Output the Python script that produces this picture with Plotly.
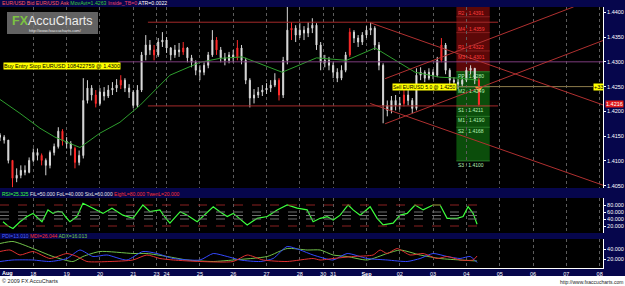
import plotly.graph_objects as go

W, H = 625, 286
FONT = "Liberation Sans"

# ---------------- data ----------------
date_ticks = [0, 1, 2, 3, 4, 4.7, 5, 6, 7, 8, 9, 9.7, 10, 11, 12, 13, 14, 15, 16, 17, 18]
date_labels = ["", "18", "19", "20", "21", "23", "24", "25", "26", "27", "28", "30", "31",
               "<b>Sep</b>", "02", "03", "04", "05", "06", "07", "08"]

bars_per_day = 8
first_open = 1.4152
close = [1.4148, 1.4142, 1.4101, 1.4065, 1.4071, 1.4081, 1.4077, 1.4101, 1.4117, 1.4111,
         1.4101, 1.4091, 1.4117, 1.4129, 1.4160, 1.4140, 1.4135, 1.4125, 1.4097, 1.4111,
         1.4222, 1.4247, 1.4233, 1.4216, 1.4239, 1.4231, 1.4243, 1.4247, 1.4253, 1.4263,
         1.4247, 1.4239, 1.4212, 1.4243, 1.4314, 1.4334, 1.4324, 1.4314, 1.4340, 1.4344,
         1.4328, 1.4314, 1.4324, 1.4320, 1.4328, 1.4308, 1.4299, 1.4283, 1.4279, 1.4293,
         1.4314, 1.4344, 1.4324, 1.4308, 1.4303, 1.4314, 1.4308, 1.4328, 1.4303, 1.4263,
         1.4227, 1.4233, 1.4239, 1.4243, 1.4247, 1.4253, 1.4263, 1.4233, 1.4303, 1.4364,
         1.4368, 1.4354, 1.4364, 1.4358, 1.4368, 1.4374, 1.4334, 1.4299, 1.4303, 1.4293,
         1.4279, 1.4267, 1.4283, 1.4314, 1.4360, 1.4348, 1.4340, 1.4354, 1.4364, 1.4368,
         1.4334, 1.4293, 1.4212, 1.4202, 1.4222, 1.4212, 1.4216, 1.4233, 1.4222, 1.4206,
         1.4273, 1.4279, 1.4267, 1.4279, 1.4273, 1.4303, 1.4334, 1.4283, 1.4263, 1.4259,
         1.4255, 1.4263, 1.4283, 1.4287, 1.4263, 1.4214]
high = [1.4156, 1.4152, 1.4142, 1.4101, 1.4085, 1.4091, 1.4091, 1.4107, 1.4125, 1.4125,
        1.4115, 1.4105, 1.4121, 1.4135, 1.4168, 1.4164, 1.4148, 1.4140, 1.4129, 1.4121,
        1.4267, 1.4263, 1.4253, 1.4243, 1.4247, 1.4249, 1.4253, 1.4259, 1.4265, 1.4273,
        1.4267, 1.4255, 1.4243, 1.4253, 1.4320, 1.4354, 1.4344, 1.4334, 1.4348, 1.4360,
        1.4350, 1.4330, 1.4334, 1.4338, 1.4340, 1.4330, 1.4314, 1.4303, 1.4293, 1.4299,
        1.4320, 1.4364, 1.4350, 1.4330, 1.4318, 1.4320, 1.4324, 1.4344, 1.4334, 1.4308,
        1.4267, 1.4245, 1.4249, 1.4253, 1.4257, 1.4263, 1.4277, 1.4267, 1.4310, 1.4411,
        1.4380, 1.4374, 1.4378, 1.4372, 1.4380, 1.4388, 1.4378, 1.4340, 1.4314, 1.4310,
        1.4299, 1.4287, 1.4293, 1.4320, 1.4368, 1.4364, 1.4354, 1.4360, 1.4372, 1.4380,
        1.4372, 1.4340, 1.4297, 1.4222, 1.4231, 1.4233, 1.4229, 1.4243, 1.4243, 1.4227,
        1.4287, 1.4289, 1.4283, 1.4287, 1.4285, 1.4310, 1.4348, 1.4338, 1.4287, 1.4269,
        1.4265, 1.4269, 1.4289, 1.4293, 1.4287, 1.4267]
low = [1.4140, 1.4135, 1.4095, 1.4047, 1.4057, 1.4065, 1.4071, 1.4075, 1.4097, 1.4101,
       1.4091, 1.4071, 1.4085, 1.4111, 1.4125, 1.4131, 1.4125, 1.4111, 1.4085, 1.4091,
       1.4105, 1.4216, 1.4222, 1.4208, 1.4212, 1.4222, 1.4227, 1.4233, 1.4239, 1.4245,
       1.4239, 1.4227, 1.4206, 1.4208, 1.4239, 1.4303, 1.4314, 1.4303, 1.4310, 1.4330,
       1.4318, 1.4303, 1.4308, 1.4310, 1.4314, 1.4299, 1.4289, 1.4273, 1.4263, 1.4273,
       1.4287, 1.4310, 1.4314, 1.4299, 1.4293, 1.4297, 1.4299, 1.4303, 1.4295, 1.4255,
       1.4208, 1.4216, 1.4227, 1.4231, 1.4235, 1.4239, 1.4249, 1.4222, 1.4227, 1.4295,
       1.4344, 1.4340, 1.4348, 1.4344, 1.4350, 1.4358, 1.4324, 1.4283, 1.4289, 1.4283,
       1.4267, 1.4259, 1.4263, 1.4279, 1.4310, 1.4338, 1.4330, 1.4334, 1.4348, 1.4354,
       1.4324, 1.4283, 1.4176, 1.4190, 1.4196, 1.4202, 1.4204, 1.4210, 1.4212, 1.4196,
       1.4202, 1.4263, 1.4259, 1.4263, 1.4265, 1.4269, 1.4299, 1.4275, 1.4255, 1.4249,
       1.4245, 1.4249, 1.4259, 1.4275, 1.4255, 1.4210]
inside_bars = [3, 10, 15, 18, 23, 29, 37, 44, 52, 57, 67, 70, 84, 97, 106, 115]

ma_t = [0, 0.6, 1.2, 1.65, 2.4, 3.0, 3.6, 4.2, 5.1, 6.0, 6.6, 7.27, 8.47, 9.5, 10.4,
        11.1, 11.26, 12.46, 13.2, 13.8, 14.35]
ma_v = [1.4224, 1.4196, 1.4166, 1.4148, 1.4127, 1.4156, 1.4178, 1.4212, 1.4273, 1.4299,
        1.4307, 1.4310, 1.4279, 1.4308, 1.4303, 1.4324, 1.4328, 1.4279, 1.4269, 1.4267, 1.4263]

signal_t = [14.375]
signal_p = [1.4247]

pivot_names = ["R2", "M4", "R1", "M3", "PP", "M2", "S1", "M1", "S2", "S3"]
pivot_vals = [1.4391, 1.4359, 1.4322, 1.4301, 1.4280, 1.4249, 1.4211, 1.4190, 1.4168, 1.4100]
pivot_period = [13.7, 14.7]

sr_levels = [1.4380, 1.4211]
sr_period = [4.44, 14.95]

trend_t0 = [11.11, 11.11, 11.56, 11.56]
trend_p0 = [1.4379, 1.4216, 1.4266, 1.4175]
trend_t1 = [18.1, 18.1, 17.22, 18.1]
trend_p1 = [1.4213, 1.4051, 1.4411, 1.4343]

buy_price, buy_text = 1.4300, "Buy Entry Stop EURUSD 108422759 @ 1.4300"
sell_price, sell_text = 1.4250, "Sell EURUSD 5.0 @ 1.4250"
sell_pips = "+33"
bid_label = "1.4216"
price_ticks = [1.4050, 1.4100, 1.4150, 1.4200, 1.4250, 1.4300, 1.4350, 1.4400]

rsi_t = [0.09, 0.24, 0.39, 0.6, 0.81, 0.99, 1.11, 1.26, 1.44, 1.59, 1.74, 1.86, 1.98, 2.1, 2.31,
         2.49, 2.7, 2.91, 3.09, 3.36, 3.54, 3.69, 3.99, 4.29, 4.5, 4.8, 4.95, 5.1, 5.41, 5.62,
         5.92, 6.16, 6.4, 6.61, 6.82, 7.0, 7.21, 7.42, 7.72, 8.02, 8.32, 8.62, 8.92, 9.22, 9.4,
         9.61, 9.82, 10.0, 10.21, 10.45, 10.6, 10.81, 11.11, 11.32, 11.5, 11.8, 12.01, 12.22,
         12.46, 12.7, 13.0, 13.21, 13.42, 13.72, 13.9, 14.05, 14.2, 14.32]
rsi_v = [32, 20, 13, 32, 47, 56, 45, 32, 66, 56, 62, 60, 45, 32, 47, 85, 75, 66, 56, 71,
         60, 51, 42, 80, 61, 66, 45, 28, 61, 51, 32, 55, 75, 60, 47, 56, 40, 23, 42, 47,
         66, 80, 71, 66, 32, 42, 47, 37, 51, 80, 66, 51, 75, 42, 23, 28, 51, 56, 80, 66,
         80, 80, 42, 42, 47, 75, 56, 25]
rsi_levels = [80, 60, 50, 40, 20]
rsi_level_colors = ["#8a2020", "#707070", "#707070", "#707070", "#8a2020"]

adx_t = [0, 0.39, 0.99, 1.59, 2.19, 2.49, 3.0, 3.99, 4.41, 5.02, 5.62, 6.4, 7.0, 8.02, 8.62,
         9.22, 9.61, 10.0, 10.42, 11.02, 11.62, 12.01, 12.61, 13.21, 13.81, 14.32]
adx_v = [51, 55, 41, 25, 15, 25, 35, 31, 31, 25, 18, 15, 18, 25, 41, 38, 38, 28, 25, 18,
         31, 38, 28, 21, 18, 16]
mdi_t = [0, 0.3, 0.6, 0.99, 1.5, 2.01, 2.31, 2.61, 3.3, 3.99, 4.41, 4.8, 5.2, 6.0, 7.0,
         7.42, 7.9, 8.62, 9.4, 9.61, 10.0, 10.6, 11.2, 11.41, 11.62, 11.92, 12.31, 12.7,
         13.12, 13.42, 13.81, 14.2, 14.32]
mdi_v = [35, 38, 28, 35, 21, 31, 25, 15, 15, 18, 28, 21, 18, 15, 15, 28, 18, 15, 21, 18,
         21, 25, 28, 38, 31, 41, 28, 31, 21, 25, 18, 18, 26]
pdi_t = [0, 0.39, 0.99, 1.5, 2.01, 2.4, 2.79, 3.21, 3.81, 4.29, 4.71, 5.2, 6.0, 6.4, 6.82,
         7.21, 7.81, 8.2, 8.62, 9.01, 9.4, 10.0, 10.42, 11.02, 11.62, 12.22, 12.61, 13.0,
         13.42, 13.81, 14.11, 14.32]
pdi_v = [15, 18, 18, 15, 21, 38, 25, 28, 18, 35, 31, 21, 18, 31, 25, 18, 15, 21, 45, 38,
         28, 18, 31, 21, 18, 15, 21, 31, 25, 21, 25, 13]

# ---------------- layout helpers ----------------
def px(x):
    return x / W


def py(y):
    return 1 - y / H


XR = [0, 18.1]
X_DOM = [0, 603 / W]
P_DOM = [py(188), py(7)]
R_DOM = [py(233), py(198)]
A_DOM = [py(268), py(239)]
NAVY = "#06064c"

t_bars = [i / bars_per_day for i in range(len(close))]
opens = [first_open] + close[:-1]
main_idx = [i for i in range(len(close)) if i not in inside_bars]


def pick(arr, idx):
    return [arr[i] for i in idx]


fig = go.Figure()

white = dict(line=dict(color="#d6d6d6", width=1), fillcolor="#ffffff")
red = dict(line=dict(color="#ff2a2a", width=1), fillcolor="#ff2a2a")
fig.add_trace(go.Candlestick(
    x=pick(t_bars, main_idx), open=pick(opens, main_idx), high=pick(high, main_idx),
    low=pick(low, main_idx), close=pick(close, main_idx),
    increasing=white, decreasing=white, whiskerwidth=0, hoverinfo="skip",
    xaxis="x", yaxis="y"))
fig.add_trace(go.Candlestick(
    x=pick(t_bars, inside_bars), open=pick(opens, inside_bars), high=pick(high, inside_bars),
    low=pick(low, inside_bars), close=pick(close, inside_bars),
    increasing=red, decreasing=red, whiskerwidth=0, hoverinfo="skip",
    xaxis="x", yaxis="y"))
fig.add_trace(go.Scatter(x=ma_t, y=ma_v, mode="lines", line=dict(color="#2e9e2e", width=1),
                         hoverinfo="skip", xaxis="x", yaxis="y"))
fig.add_trace(go.Scatter(x=signal_t, y=signal_p, mode="markers",
                         marker=dict(symbol="triangle-down", size=8, color="#ff9a2a"),
                         hoverinfo="skip", xaxis="x", yaxis="y"))

fig.add_trace(go.Scatter(x=rsi_t, y=rsi_v, mode="lines", line=dict(color="#3cff3c", width=1.2),
                         hoverinfo="skip", xaxis="x2", yaxis="y2"))

for tt, vv, cc in [(adx_t, adx_v, "#72c24a"), (pdi_t, pdi_v, "#3448ff"), (mdi_t, mdi_v, "#e03030")]:
    fig.add_trace(go.Scatter(x=tt, y=vv, mode="lines",
                             line=dict(color=cc, width=1, shape="spline", smoothing=0.6),
                             hoverinfo="skip", xaxis="x3", yaxis="y3"))

shapes = []
# pivot boxes
shapes.append(dict(type="rect", xref="x", yref="y", x0=pivot_period[0], x1=pivot_period[1],
                   y0=pivot_vals[4], y1=1.4430, fillcolor="#5c0808", line=dict(width=0), layer="below"))
shapes.append(dict(type="rect", xref="x", yref="y", x0=pivot_period[0], x1=pivot_period[1],
                   y0=pivot_vals[-1], y1=pivot_vals[4], fillcolor="#0b4d0b", line=dict(width=0), layer="below"))
for i, v in enumerate(pivot_vals):
    col = "#8a2020" if i < 4 else "#2a7a2a"
    shapes.append(dict(type="line", xref="x", yref="y", x0=pivot_period[0], x1=pivot_period[1],
                       y0=v, y1=v, line=dict(color=col, width=1), layer="below"))
# support / resistance
for v in sr_levels:
    shapes.append(dict(type="line", xref="x", yref="y", x0=sr_period[0], x1=sr_period[1],
                       y0=v, y1=v, line=dict(color="#a52a2a", width=1)))
# order lines
shapes.append(dict(type="line", xref="x", yref="y", x0=3.55, x1=XR[1], y0=buy_price, y1=buy_price,
                   line=dict(color="#7e3c7e", width=1)))
shapes.append(dict(type="line", xref="x", yref="y", x0=13.72, x1=17.8, y0=sell_price, y1=sell_price,
                   line=dict(color="#8e7c4c", width=1)))
# trend lines
for a, b, c, d in zip(trend_t0, trend_p0, trend_t1, trend_p1):
    shapes.append(dict(type="line", xref="x", yref="y", x0=a, y0=b, x1=c, y1=d,
                       line=dict(color="#b03030", width=1)))
# RSI levels
for lv, cc in zip(rsi_levels, rsi_level_colors):
    shapes.append(dict(type="line", xref="x2", yref="y2", x0=0, x1=14.4, y0=lv, y1=lv,
                       line=dict(color=cc, width=1, dash="dash")))
# logo box and footer
shapes.append(dict(type="rect", xref="paper", yref="paper", x0=px(7), x1=px(98), y0=py(34), y1=py(12),
                   fillcolor="rgba(115,115,115,0.85)", line=dict(width=0)))
shapes.append(dict(type="rect", xref="paper", yref="paper", x0=0, x1=1, y0=0, y1=py(276),
                   fillcolor="white", line=dict(width=0)))

ann = []


def note(text, x, y, xref="paper", yref="paper", size=5, color="white", xa="left", ya="middle", bg=None):
    d = dict(text=text, x=x, y=y, xref=xref, yref=yref, showarrow=False, xanchor=xa, yanchor=ya,
             font=dict(family=FONT, size=size, color=color), borderpad=0)
    if bg:
        d["bgcolor"] = bg
    ann.append(d)


note("<span style='color:#ff5a5a'>EUR/USD Bid EUR/USD Ask</span> "
     "<span style='color:#3ccc3c'>MovAvt=1.4263</span> "
     "<span style='color:#e8406a'>Inside_TB=0</span> "
     "<span style='color:#ffffff'>ATR=0.0022</span>", px(1), py(3.5), size=5.2)
note("<b><span style='color:#7cc242'>FX</span></b><span style='color:#ececec'>AccuCharts</span>",
     px(11), py(21), size=12.5)
note("http://www.fxaccucharts.com/", px(28), py(30.5), size=4, color="#e6e6e6")
note("<span style='color:#3cff3c'>RSI=25.325</span> "
     "<span style='color:#e6e6e6'>FiL=50.000 FoL=40.000 SixL=60.000</span> "
     "<span style='color:#ff3030'>EighL=80.000 TwenL=20.000</span>", px(1), py(194), size=5)
note("<span style='color:#4a64ff'>PDI=13.010</span> "
     "<span style='color:#ff3030'>MDI=26.044</span> "
     "<span style='color:#72d04a'>ADX=16.013</span>", px(1), py(236), size=5)
note("<b>Aug</b>", px(1), py(272.5), size=5.5)
note("© 2009 FX AccuCharts", px(1), py(281), size=5.5, color="#222222")
note("http://www.fxaccucharts.com", px(624), py(282), size=5, color="#222222", xa="right")

note(buy_text, px(3), buy_price, yref="y", size=5.5, color="black", ya="top", bg="#ffff00")
note(sell_text, 13.72, sell_price, xref="x", yref="y", size=5, color="black", xa="right", bg="#ffff00")
note(sell_pips, 17.8, sell_price, xref="x", yref="y", size=5.5, color="black", bg="#ffff00")
note(bid_label, px(605), close[-1], yref="y", size=5.5, color="white", bg="#e01818")

for i, (n, v) in enumerate(zip(pivot_names, pivot_vals)):
    note(f"{n} : {v:.4f}", pivot_period[0] + 0.03, v, xref="x", yref="y", size=5,
         color="#ff3c3c" if i < 4 else "#b4f0b4", ya="bottom" if i < 4 else "top")

xcommon = dict(range=XR, domain=X_DOM, tickvals=date_ticks, showgrid=True, gridcolor="#5c5c5c",
               griddash="dot", gridwidth=1, zeroline=False, fixedrange=True)
ycommon = dict(side="right", showgrid=False, zeroline=False, showline=True, linecolor="white",
               linewidth=1, ticks="outside", ticklen=2, tickcolor="white",
               tickfont=dict(family=FONT, size=5.5, color="white"), fixedrange=True)

fig.update_layout(
    width=W, height=H, margin=dict(l=0, r=0, t=0, b=0), showlegend=False,
    paper_bgcolor=NAVY, plot_bgcolor="black", boxgap=0.65,
    xaxis=dict(anchor="y", showticklabels=False, rangeslider=dict(visible=False), **xcommon),
    xaxis2=dict(anchor="y2", showticklabels=False, **xcommon),
    xaxis3=dict(anchor="y3", showticklabels=True, ticktext=date_labels, ticks="",
                tickfont=dict(family=FONT, size=5.5, color="white"),
                showline=True, linecolor="white", linewidth=1, **xcommon),
    yaxis=dict(anchor="x", domain=P_DOM, range=[1.40453, 1.44107], tickvals=price_ticks,
               ticktext=[f"{v:.4f}" for v in price_ticks], **ycommon),
    yaxis2=dict(anchor="x2", domain=R_DOM, range=[0, 100], tickvals=[20, 40, 60, 80],
                ticktext=["20.000", "40.000", "60.000", "80.000"], **ycommon),
    yaxis3=dict(anchor="x3", domain=A_DOM, range=[2, 60], tickvals=[20, 40],
                ticktext=["20.000", "40.000"], **ycommon),
    shapes=shapes, annotations=ann,
)

fig.write_html("out.html")
